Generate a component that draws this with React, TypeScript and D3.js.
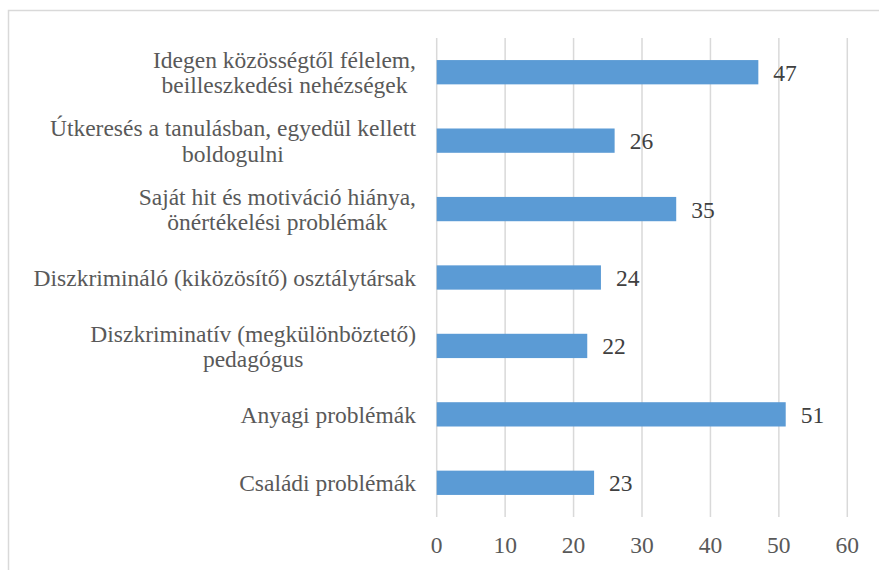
import React from "react";
import * as d3 from "d3";

const categories: string[] = [
  "Idegen közösségtől félelem,\nbeilleszkedési nehézségek",
  "Útkeresés a tanulásban, egyedül kellett\nboldogulni",
  "Saját hit és motiváció hiánya,\nönértékelési problémák",
  "Diszkrimináló (kiközösítő) osztálytársak",
  "Diszkriminatív (megkülönböztető)\npedagógus",
  "Anyagi problémák",
  "Családi problémák",
];
const values: number[] = [47, 26, 35, 24, 22, 51, 23];
const xTicks: number[] = [0, 10, 20, 30, 40, 50, 60];

const W = 879;
const H = 570;
const FONT = "'Liberation Serif', 'Times New Roman', serif";
const FS = 23.5;
const TXT = "#595959";

function measure(s: string): number {
  try {
    const c = document.createElement("canvas");
    const ctx = c.getContext("2d");
    if (!ctx) return s.length * 10;
    ctx.font = `${FS}px 'Liberation Serif'`;
    return ctx.measureText(s).width;
  } catch {
    return s.length * 10;
  }
}

export default function App() {
  const x = d3.scaleLinear().domain([0, 60]).range([436.7, 847.3]);
  const y = d3
    .scaleBand<string>()
    .domain(categories)
    .range([38, 517])
    .paddingInner(0.645)
    .paddingOuter(0.3225);
  const labelRight = 416;
  const lineH = 25.5;

  return (
    <svg
      width={W}
      height={H}
      style={{ position: "absolute", left: 0, top: 0, background: "#fff" }}
      fontFamily={FONT}
    >
      <rect x={8.5} y={10.5} width={880} height={600} fill="#fff" stroke="#d9d9d9" strokeWidth={1.5} />
      {xTicks.map((t) => (
        <line key={"g" + t} x1={x(t)} x2={x(t)} y1={38} y2={517} stroke="#d9d9d9" strokeWidth={1.5} />
      ))}
      {categories.map((c, i) => {
        const yc = (y(c) as number) + y.bandwidth() / 2;
        return (
          <g key={"b" + i}>
            <rect
              x={x(0)}
              y={y(c)}
              width={x(values[i]) - x(0)}
              height={y.bandwidth()}
              fill="#5B9BD5"
            />
            <text x={x(values[i]) + 15} y={yc + 8.5} fontSize={FS} fill="#404040">
              {values[i]}
            </text>
          </g>
        );
      })}
      {categories.map((c, i) => {
        const lines = c.split("\n");
        const yc = (y(c) as number) + y.bandwidth() / 2;
        const maxW = Math.max(...lines.map(measure));
        const cx = labelRight - maxW / 2;
        const n = lines.length;
        return (
          <g key={"l" + i}>
            {lines.map((ln, j) => (
              <text
                key={j}
                x={n === 1 ? labelRight : cx}
                y={yc + 8.5 + (j - (n - 1) / 2) * lineH}
                textAnchor={n === 1 ? "end" : "middle"}
                fontSize={FS}
                fill={TXT}
              >
                {ln}
              </text>
            ))}
          </g>
        );
      })}
      {xTicks.map((t) => (
        <text key={"t" + t} x={x(t)} y={553.3} textAnchor="middle" fontSize={FS} fill={TXT}>
          {t}
        </text>
      ))}
    </svg>
  );
}
